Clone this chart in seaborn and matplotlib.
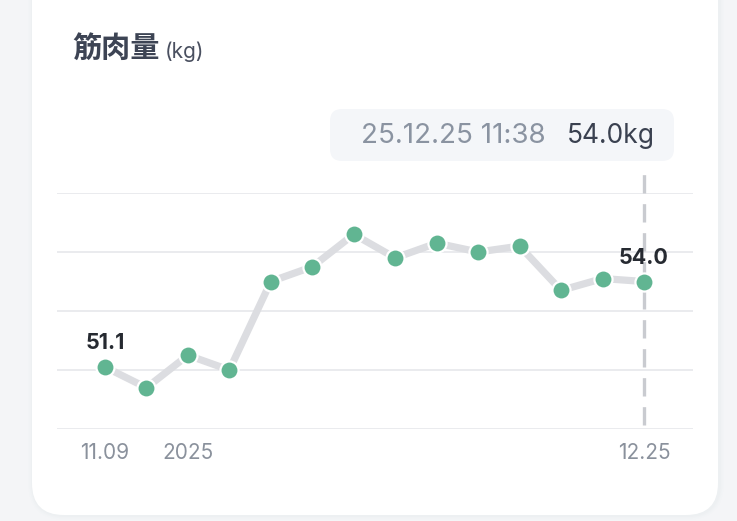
import matplotlib
matplotlib.use("Agg")
import matplotlib.pyplot as plt
import seaborn as sns
import pandas as pd
from matplotlib.patches import FancyBboxPatch

# ---- data ----
values = [51.1, 50.4, 51.5, 51.0, 54.0, 54.5, 55.6, 54.8, 55.3, 55.0, 55.2, 53.7, 54.1, 54.0]
positions = list(range(len(values)))
tick_positions = [0, 2, 13]
tick_labels = ["11.09", "2025", "12.25"]
grid_levels = [49, 51, 53, 55, 57]
labeled_points = [0, 13]
title_main = "筋肉量"
title_unit = "(kg)"
tooltip_time = "25.12.25 11:38"
tooltip_value = "54.0kg"

df = pd.DataFrame({"pos": positions, "value": values})

W, H = 737, 521
sns.set_theme(style="white")
plt.rcParams['font.family'] = ['Inter', 'Noto Sans CJK JP', 'DejaVu Sans']

fig = plt.figure(figsize=(W / 100, H / 100), dpi=100)
fig.patch.set_facecolor('#f4f5f7')

# background / card layer in pixel coordinates
bg = fig.add_axes([0, 0, 1, 1])
bg.set_xlim(0, W)
bg.set_ylim(H, 0)
bg.axis('off')
for i, a in enumerate([0.012, 0.016, 0.022]):
    off = 5 - i * 1.5
    bg.add_patch(FancyBboxPatch((32 - off + 1, -40 - off), 686 + 2 * off, 555 + 2 * off,
                                boxstyle=f"round,pad=0,rounding_size={32 + off}",
                                fc='#9aa0aa', ec='none', alpha=a))
bg.add_patch(FancyBboxPatch((32, -40), 686, 555, boxstyle="round,pad=0,rounding_size=32",
                            fc='white', ec='none'))

# title
bg.text(72, 48, title_main, fontsize=21, fontweight='bold', color='#3d4454',
        family=['Noto Sans CJK JP'], va='center', ha='left')
bg.text(165, 52, title_unit, fontsize=15, color='#4a5060',
        family=['Inter'], va='center', ha='left')

# tooltip
bg.add_patch(FancyBboxPatch((330, 109), 344, 52, boxstyle="round,pad=0,rounding_size=12",
                            fc='#f4f6f9', ec='none'))
bg.text(546, 136, tooltip_time, fontsize=20, color='#8a93a1', va='center', ha='right')
bg.text(567, 136, tooltip_value, fontsize=19, color='#3a4150', va='center', ha='left')

# chart axes
L, R, T, B = 57, 693, 193, 429
ax = fig.add_axes([L / W, (H - B) / H, (R - L) / W, (B - T) / H])
ax.set_facecolor('none')
step = (644 - 105) / 13
ax.set_xlim(-(105 - L) / step, 13 + (R - 644) / step)
ax.set_ylim(49, 57)
px_per_unit = (B - T) / 8

for g in grid_levels:
    ax.axhline(g, color='#e6e8eb', lw=1.2, zorder=0)

ax.vlines(13, 49 + (B - 425) / px_per_unit, 57 + (T - 165) / px_per_unit,
          colors='#c9cbd0', lw=2.4, linestyles=(0, (5.5, 3.2)), clip_on=False, zorder=1)

sns.lineplot(data=df, x="pos", y="value", ax=ax, color='#dcdde1', lw=5.2,
             solid_capstyle='round', solid_joinstyle='round', zorder=2)
sns.scatterplot(data=df, x="pos", y="value", ax=ax, color='#61b592', s=170,
                edgecolor='white', linewidth=1.6, zorder=3, clip_on=False)

for i in labeled_points:
    ax.annotate(f"{values[i]:.1f}", (positions[i], values[i]), xytext=(0, 17),
                textcoords='offset points', ha='center', va='center',
                fontsize=15.5, fontweight='bold', color='#262a31')

ax.set_xticks(tick_positions)
ax.set_xticklabels(tick_labels, fontsize=15, color='#8a919c')
ax.tick_params(axis='x', length=0, pad=10)
ax.set_yticks([])
ax.set_xlabel('')
ax.set_ylabel('')
for s in ax.spines.values():
    s.set_visible(False)

fig.savefig('out.png', dpi=100, facecolor=fig.get_facecolor())
